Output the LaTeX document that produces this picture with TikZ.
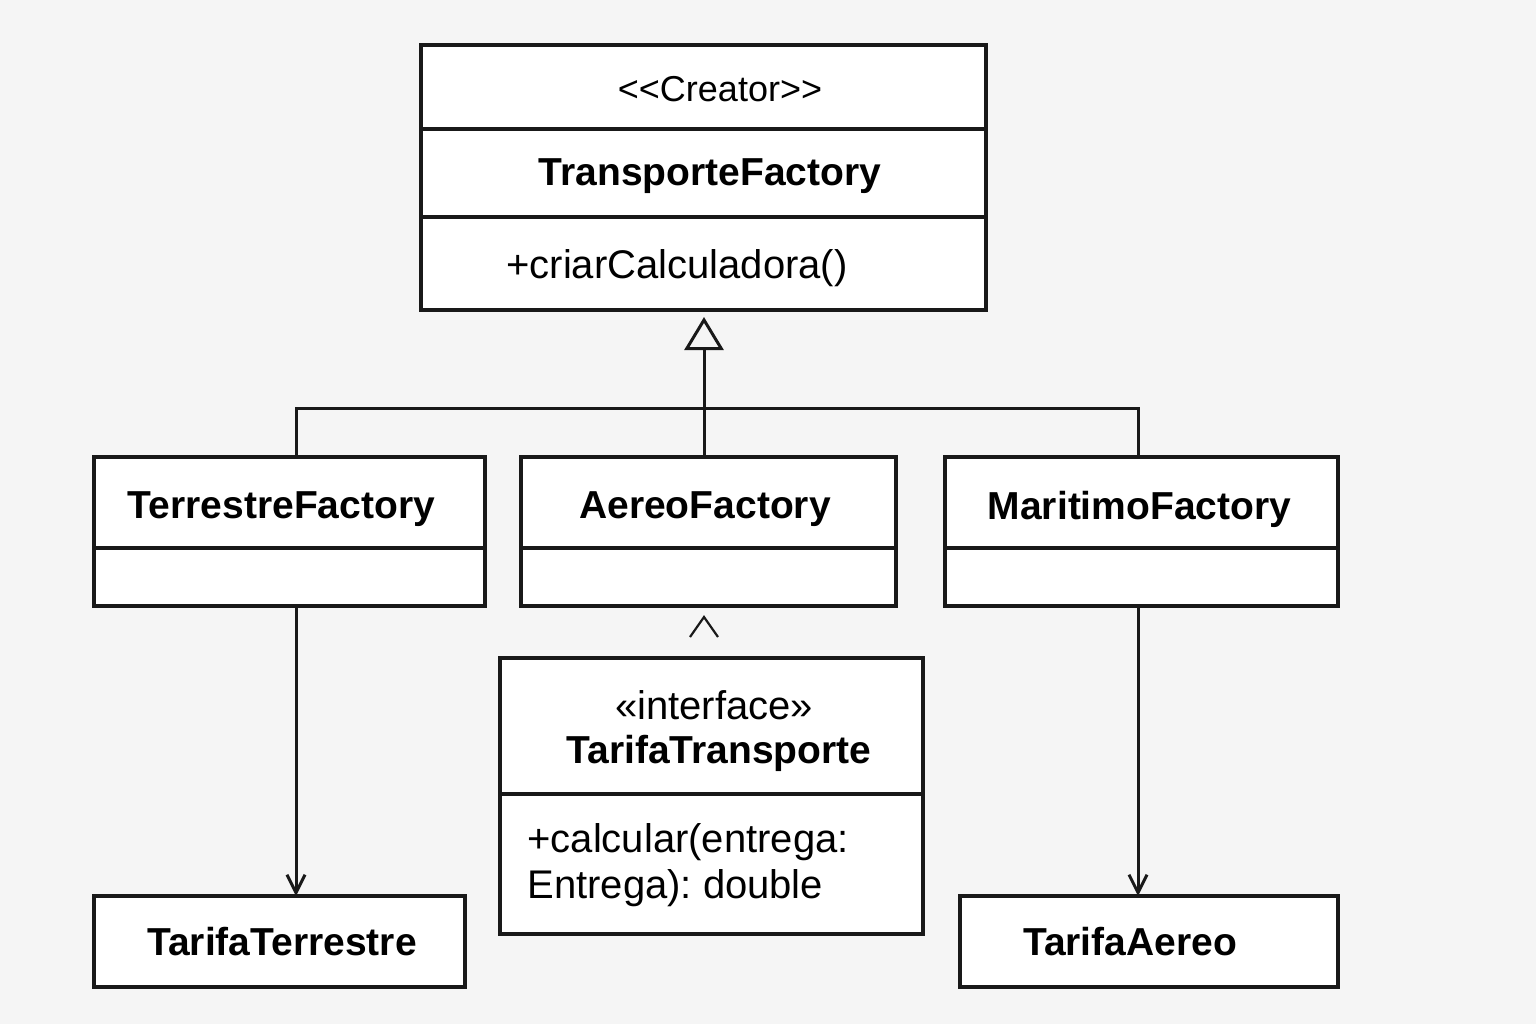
\documentclass[tikz,border=0pt]{standalone}
\usepackage{fontspec}
\setmainfont{Liberation Sans}
\frenchspacing
\usetikzlibrary{positioning,arrows.meta}
\tikzset{
  compart/.style={draw=black!90, line width=1.6pt, fill=white, outer sep=0pt, inner sep=0pt},
  title/.style={inner sep=0pt, font=\fontsize{19.5}{23}\selectfont\bfseries},
  member/.style={inner sep=0pt, font=\fontsize{20}{23}\selectfont},
  link/.style={draw=black!90, line width=1.5pt},
  gen/.style={link, -{Triangle[open, length=16.5pt, width=19.5pt]}, shorten >=3.5pt},
  dep/.style={link, -{Straight Barb[length=9pt, width=9pt]}},
}
\begin{document}
\begin{tikzpicture}[x=0.5pt, y=-0.5pt]
  \fill[black!4] (0,0) rectangle (1536,1024);

  % creator
  \node[compart, anchor=north west, minimum width=282.5pt, minimum height=42pt] (tfa) at (421,45) {};
  \node[compart, below=0pt of tfa, minimum width=282.5pt, minimum height=44pt] (tfb) {};
  \node[compart, below=0pt of tfb, minimum width=282.5pt, minimum height=46.5pt] (tfc) {};
  \node[member, font=\fontsize{18}{22}\selectfont] (tfst) at ([xshift=8.25pt, yshift=-1pt]tfa.center) {<{}<Creator>{}>};
  \node[title] (tfname) at ([xshift=3.25pt, yshift=-1.5pt]tfb.center) {TransporteFactory};
  \node[member, anchor=west] (tfop) at ([xshift=42.5pt, yshift=-2.5pt]tfc.west) {+criarCalculadora()};

  % concrete creators
  \node[compart, anchor=north west, minimum width=195.5pt, minimum height=45.5pt] (tra) at (94,457) {};
  \node[compart, below=0pt of tra, minimum width=195.5pt, minimum height=29pt] (trb) {};
  \node[title] (trname) at ([xshift=-4pt, yshift=-3.5pt]tra.center) {TerrestreFactory};

  \node[compart, anchor=north west, minimum width=187.5pt, minimum height=45.5pt] (aea) at (521,457) {};
  \node[compart, below=0pt of aea, minimum width=187.5pt, minimum height=29pt] (aeb) {};
  \node[title] (aename) at ([xshift=-1.75pt, yshift=-3.5pt]aea.center) {AereoFactory};

  \node[compart, anchor=north west, minimum width=196.5pt, minimum height=45.5pt] (maa) at (945,457) {};
  \node[compart, below=0pt of maa, minimum width=196.5pt, minimum height=29pt] (mab) {};
  \node[title] (maname) at ([xshift=-1pt, yshift=-3.5pt]maa.center) {MaritimoFactory};

  % product interface
  \node[compart, anchor=north west, minimum width=211.5pt, minimum height=68pt] (tpa) at (500,658) {};
  \node[compart, below=0pt of tpa, minimum width=211.5pt, minimum height=70pt] (tpb) {};
  \node[member] (tpst) at ([xshift=1.25pt, yshift=10.5pt]tpa.center) {«interface»};
  \node[title] (tpname) at ([xshift=3.75pt, yshift=-13.5pt]tpa.center) {TarifaTransporte};
  \node[member, align=left, anchor=west] (tpop) at ([xshift=13.5pt, yshift=-0.5pt]tpb.west) {+calcular(entrega:\\Entrega): double};

  % products
  \node[compart, anchor=north west, minimum width=185.5pt, minimum height=45.5pt] (tt) at (94,896) {};
  \node[title] (ttname) at ([xshift=1.25pt]tt.center) {TarifaTerrestre};
  \node[compart, anchor=north west, minimum width=189pt, minimum height=45.5pt] (ta) at (960,896) {};
  \node[title] (taname) at ([xshift=-9.5pt]ta.center) {TarifaAereo};

  % inheritance
  \coordinate (bus) at (704,408);
  \coordinate (trtop) at ([xshift=3.25pt]tra.north);
  \coordinate (matop) at ([xshift=-1.75pt]maa.north);
  \draw[link] (trtop) |- (bus) -| (matop);
  \draw[link] (aea.north -| bus) -- (bus);
  \draw[gen] (bus) -- (tfc.south -| bus);

  % creates
  \coordinate (trbot) at ([xshift=3.25pt]trb.south);
  \coordinate (mabot) at ([xshift=-1.75pt]mab.south);
  \draw[dep] (trbot) -- (trbot |- tt.north);
  \draw[dep] (mabot) -- (mabot |- ta.north);

  \draw[link, line width=1.1pt] (690,637) -- (704,617) -- (718,637);
\end{tikzpicture}
\end{document}
